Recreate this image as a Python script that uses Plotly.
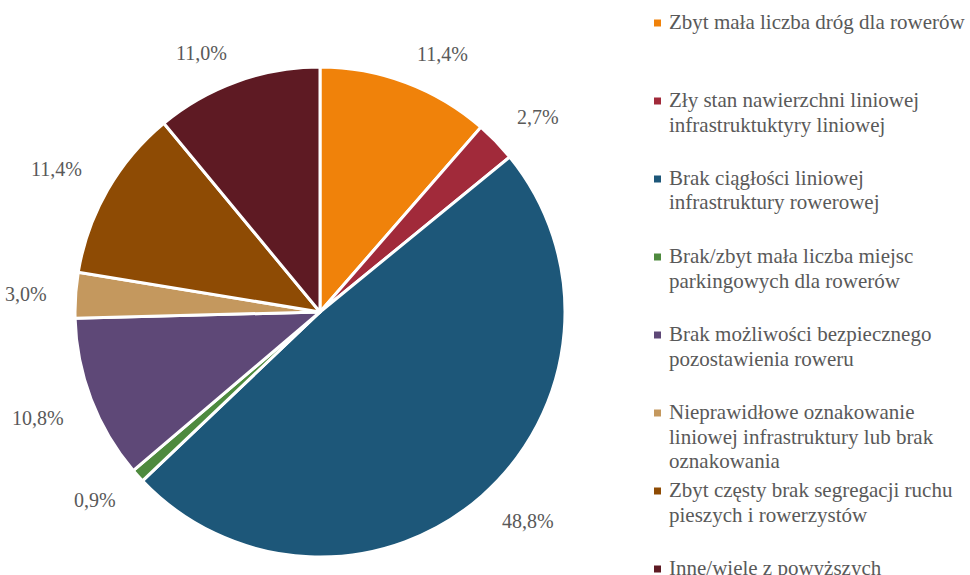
import math
import plotly.graph_objects as go

labels = [
    "Zbyt mała liczba dróg dla rowerów",
    "Zły stan nawierzchni liniowej<br>infrastruktuktyry liniowej",
    "Brak ciągłości liniowej<br>infrastruktury rowerowej",
    "Brak/zbyt mała liczba miejsc<br>parkingowych dla rowerów",
    "Brak możliwości bezpiecznego<br>pozostawienia roweru",
    "Nieprawidłowe oznakowanie<br>liniowej infrastruktury lub brak<br>oznakowania",
    "Zbyt częsty brak segregacji ruchu<br>pieszych i rowerzystów",
    "Inne/wiele z powyższych",
]
values = [11.4, 2.7, 48.8, 0.9, 10.8, 3.0, 11.4, 11.0]
colors = ["#F0820A", "#A12A3A", "#1D5779", "#4E8A3E", "#5E4877", "#C4985E", "#8E4B04", "#5E1A23"]

W, H = 970, 575
TEXT = "#595959"
FONT = "Liberation Serif, Times New Roman, serif"

# pie geometry (pixels)
cx, cy, r = 320, 312, 245
dom_x = [(cx - r) / W, (cx + r) / W]
dom_y = [1 - (cy + r) / H, 1 - (cy - r) / H]

fig = go.Figure(go.Pie(
    labels=[l.replace("<br>", " ") for l in labels],
    values=values,
    sort=False,
    direction="clockwise",
    rotation=0,
    marker=dict(colors=colors, line=dict(color="white", width=3)),
    textinfo="none",
    hoverinfo="label+percent",
    showlegend=False,
    domain=dict(x=dom_x, y=dom_y),
))

annotations = []
shapes = []

# data labels outside the slices (best-fit style: corner at fixed gap from rim)
total = sum(values)
cum = 0.0
gap_x, gap_y = 28, 18
for v in values:
    mid = (cum + v / 2) / total * 2 * math.pi
    cum += v
    ux, uy = math.sin(mid), -math.cos(mid)
    px = cx + (r + gap_x) * ux
    py = cy + (r + gap_y) * uy
    xa = "left" if ux > 0.2 else ("right" if ux < -0.2 else "center")
    ya = "top" if uy > 0.2 else ("bottom" if uy < -0.2 else "middle")
    annotations.append(dict(
        x=px / W, y=1 - py / H, xref="paper", yref="paper",
        text=f"{v:.1f}%".replace(".", ","), showarrow=False,
        xanchor=xa, yanchor=ya, borderpad=0,
        font=dict(family=FONT, size=20, color=TEXT),
    ))

# legend (equal slots, Excel-like)
leg_x_marker = 657.5
leg_x_text = 668
leg_y0 = 22
leg_step = 78
line_h = 24.5
msize = 7
for i, (lab, col) in enumerate(zip(labels, colors)):
    ytop = leg_y0 + i * leg_step
    shapes.append(dict(
        type="rect", xref="paper", yref="paper",
        x0=(leg_x_marker - msize / 2) / W, x1=(leg_x_marker + msize / 2) / W,
        y0=1 - (ytop + 1 + msize / 2) / H, y1=1 - (ytop + 1 - msize / 2) / H,
        fillcolor=col, line=dict(width=0),
    ))
    for j, line in enumerate(lab.split("<br>")):
        yl = ytop + j * line_h
        annotations.append(dict(
            x=leg_x_text / W, y=1 - yl / H, xref="paper", yref="paper",
            text=line, showarrow=False, xanchor="left", yanchor="middle",
            borderpad=0,
            font=dict(family=FONT, size=21, color=TEXT),
        ))

fig.update_layout(
    width=W, height=H,
    margin=dict(l=0, r=0, t=0, b=0),
    paper_bgcolor="white",
    plot_bgcolor="white",
    showlegend=False,
    annotations=annotations,
    shapes=shapes,
)

fig.write_html(
    "out.html",
    config={"displayModeBar": False},
    post_script="document.body.style.margin='0';document.body.style.overflow='hidden';",
)
